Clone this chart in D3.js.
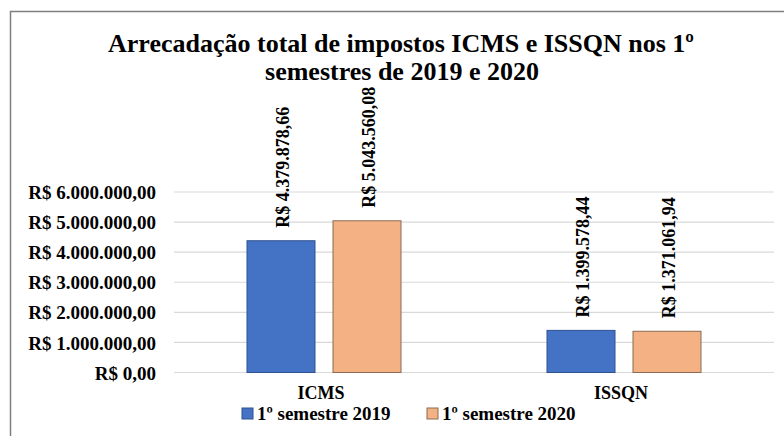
<!DOCTYPE html>
<html>
<head>
<meta charset="utf-8">
<script src="https://cdn.jsdelivr.net/npm/d3@7"></script>
<style>
  body { margin: 0; background: #fff; }
  svg text { font-family: 'Liberation Serif', 'Times New Roman', Times, serif; }
</style>
</head>
<body>
<svg width="784" height="436"></svg>
<script>
// chart data
const categories = ['ICMS', 'ISSQN'];
const seriesNames = ['1º semestre 2019', '1º semestre 2020'];
const values2019 = [4379878.66, 1399578.44];
const values2020 = [5043560.08, 1371061.94];
const valueLabels2019 = ['R$ 4.379.878,66', 'R$ 1.399.578,44'];
const valueLabels2020 = ['R$ 5.043.560,08', 'R$ 1.371.061,94'];
const yTicks = [0, 1000000, 2000000, 3000000, 4000000, 5000000, 6000000];

const colors = ['#4472c4', '#f4b183'];
const strokes = ['#2f528f', '#8c6b55'];

const svg = d3.select('svg');

// outer frame (cut by the picture edges)
svg.append('path')
  .attr('d', 'M10.5,436 L10.5,11.5 L784,11.5')
  .attr('fill', 'none')
  .attr('stroke', '#7f7f7f')
  .attr('stroke-width', 1.5);

// title
const title = svg.append('text')
  .attr('text-anchor', 'middle')
  .attr('font-weight', 'bold')
  .attr('font-size', 26)
  .attr('fill', '#000');
title.append('tspan').attr('x', 401).attr('y', 52).text('Arrecadação total de impostos ICMS e ISSQN nos 1º');
title.append('tspan').attr('x', 402).attr('y', 80).text('semestres de 2019 e 2020');

const x = d3.scaleBand().domain(categories).range([174, 774]);
const y = d3.scaleLinear().domain([0, 6000000]).range([372.5, 192]);

const fmt = v => 'R$ ' + d3.format(',.2f')(v).replace(/,/g, '#').replace('.', ',').replace(/#/g, '.');

// grid
svg.append('g')
  .selectAll('line')
  .data(yTicks)
  .join('line')
    .attr('x1', 174)
    .attr('x2', 774)
    .attr('y1', d => y(d))
    .attr('y2', d => y(d))
    .attr('stroke', '#d9d9d9')
    .attr('stroke-width', 1.2);

// y axis labels
const yAxis = svg.append('g')
  .attr('transform', 'translate(156,0)')
  .call(d3.axisLeft(y).tickValues(yTicks).tickSize(0).tickPadding(0).tickFormat(fmt))
  .attr('font-family', null);
yAxis.select('.domain').remove();
yAxis.selectAll('text')
  .attr('font-weight', 'bold')
  .attr('font-size', 19)
  .attr('fill', '#000')
  .attr('dy', '0.35em');

// bars
const barW = 68, gap = 18;
const xs = d3.scaleOrdinal().domain([0, 1]).range([-(barW + gap / 2), gap / 2]);
const rows = [];
categories.forEach((c, i) => {
  rows.push({ cat: c, s: 0, v: values2019[i], label: valueLabels2019[i] });
  rows.push({ cat: c, s: 1, v: values2020[i], label: valueLabels2020[i] });
});

svg.append('g')
  .selectAll('rect')
  .data(rows)
  .join('rect')
    .attr('x', d => x(d.cat) + x.bandwidth() / 2 + xs(d.s))
    .attr('y', d => y(d.v))
    .attr('width', barW)
    .attr('height', d => y(0) - y(d.v))
    .attr('fill', d => colors[d.s])
    .attr('stroke', d => strokes[d.s])
    .attr('stroke-width', 1);

// value labels (rotated)
svg.append('g')
  .selectAll('text')
  .data(rows)
  .join('text')
    .attr('transform', d => {
      const cx = x(d.cat) + x.bandwidth() / 2 + xs(d.s) + barW / 2 + 8;
      return `translate(${cx},${y(d.v) - 13}) rotate(-90)`;
    })
    .attr('font-weight', 'bold')
    .attr('font-size', 18)
    .attr('fill', '#000')
    .text(d => d.label);

// category labels
svg.append('g')
  .selectAll('text')
  .data(categories)
  .join('text')
    .attr('x', d => x(d) + x.bandwidth() / 2 - 3)
    .attr('y', 399)
    .attr('text-anchor', 'middle')
    .attr('font-weight', 'bold')
    .attr('font-size', 18)
    .attr('fill', '#000')
    .text(d => d);

// legend
const legX = [242, 427];
const leg = svg.append('g')
  .selectAll('g')
  .data(seriesNames)
  .join('g')
    .attr('transform', (d, i) => `translate(${legX[i]},413)`);
leg.append('rect')
  .attr('x', 0).attr('y', -5)
  .attr('width', 11).attr('height', 11)
  .attr('fill', (d, i) => colors[i])
  .attr('stroke', (d, i) => strokes[i]);
leg.append('text')
  .attr('x', 15)
  .attr('y', 0)
  .attr('dy', '0.35em')
  .attr('font-weight', 'bold')
  .attr('font-size', 19)
  .attr('fill', '#000')
  .text(d => d);
</script>
</body>
</html>
